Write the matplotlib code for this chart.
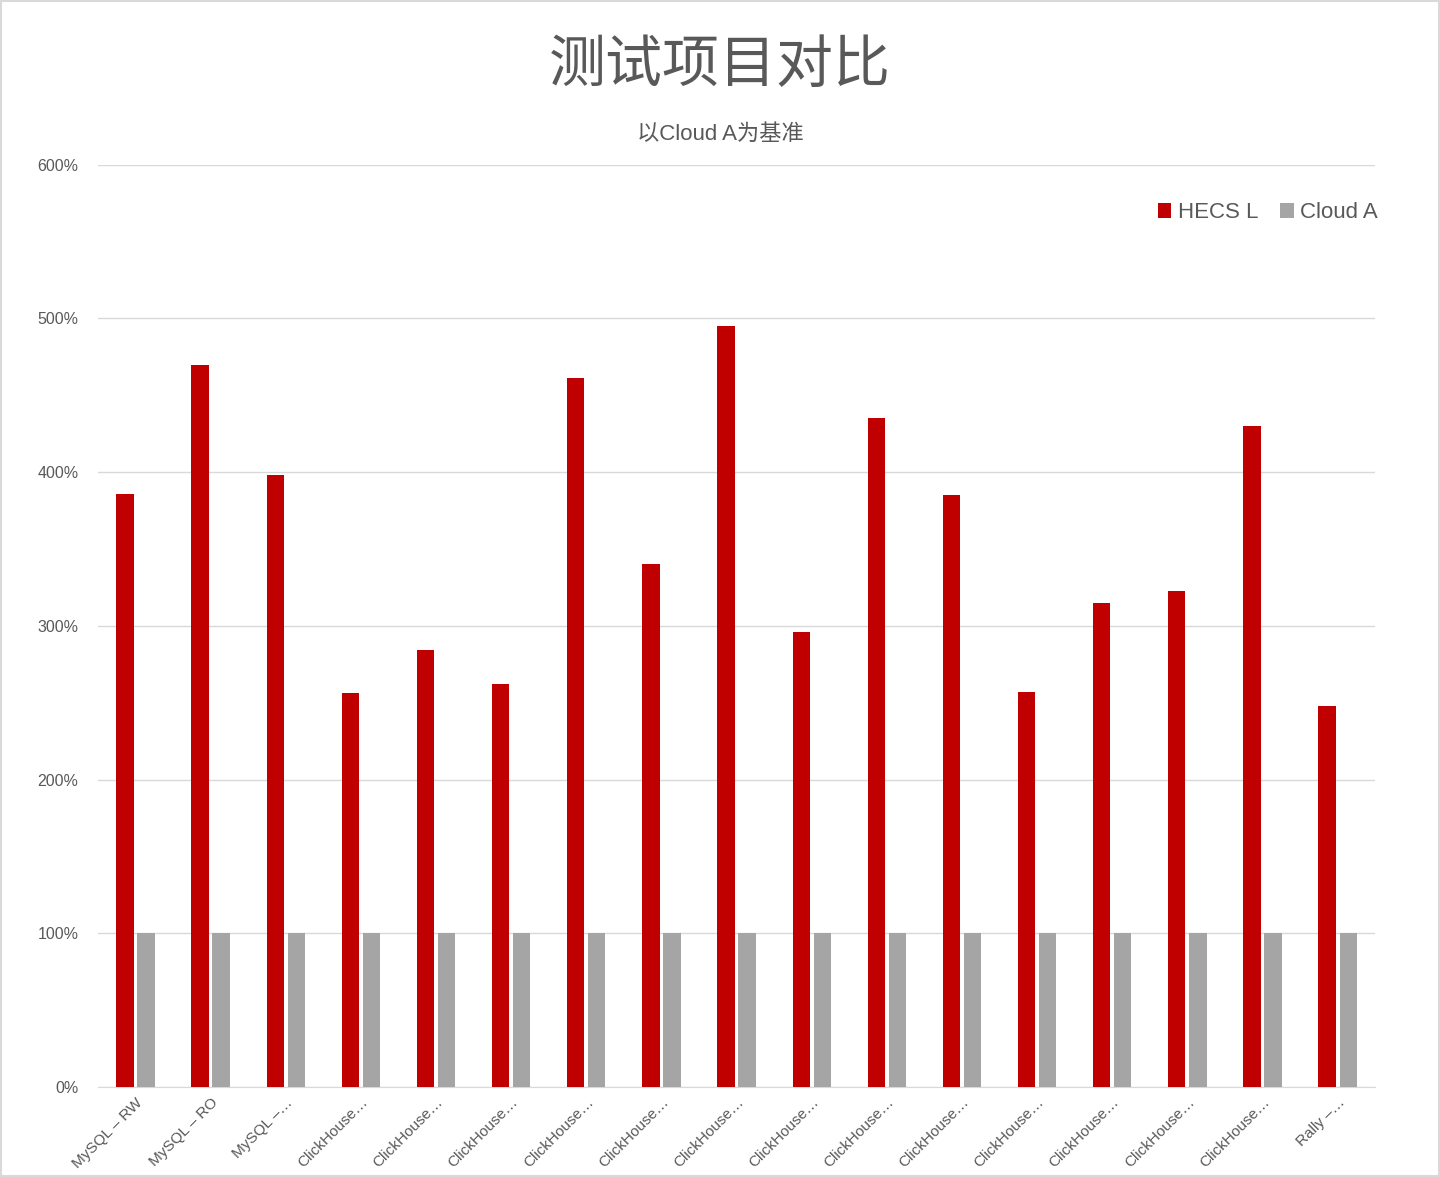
import numpy as np
import matplotlib.pyplot as plt
from matplotlib.patches import Rectangle
from matplotlib.ticker import FuncFormatter, MultipleLocator

plt.rcParams['font.family'] = ['Liberation Sans', 'Noto Sans CJK SC', 'DejaVu Sans']

labels = ['MySQL – RW', 'MySQL – RO', 'MySQL –…'] + ['ClickHouse…'] * 13 + ['Rally –…']
hecs = [386, 470, 398, 256, 284, 262, 461, 340, 495, 296, 435, 385, 257, 315, 323, 430, 248]
cloud_a = [100] * 17

txt = '#595959'
fig = plt.figure(figsize=(14.4, 11.77), dpi=100)
ax = fig.add_axes([0.068, 0.0765, 0.887, 0.7835])

x = np.arange(len(labels))
w = 0.23
ax.bar(x - 0.14, hecs, w, color='#c00000', label='HECS L', zorder=3)
ax.bar(x + 0.14, cloud_a, w, color='#a5a5a5', label='Cloud A', zorder=3)

ax.set_xlim(-0.5, len(labels) - 0.5)
ax.set_ylim(0, 600)
ax.yaxis.set_major_locator(MultipleLocator(100))
ax.yaxis.set_major_formatter(FuncFormatter(lambda v, p: f'{int(v)}%'))
ax.grid(axis='y', color='#d9d9d9', linewidth=1, zorder=0)
for s in ['top', 'right', 'left']:
    ax.spines[s].set_visible(False)
ax.spines['bottom'].set_color('#d9d9d9')
ax.tick_params(axis='y', length=0, labelsize=11.5, labelcolor=txt, pad=14)
ax.tick_params(axis='x', length=0, labelsize=11, labelcolor=txt, pad=6)
ax.set_xticks(x)
ax.set_xticklabels(labels, rotation=45, ha='right', rotation_mode='anchor')

fig.text(0.5, 0.943, '测试项目对比', ha='center', va='center', fontsize=41, color=txt)
fig.text(0.5, 0.886, '以Cloud A为基准', ha='center', va='center', fontsize=16, color=txt)

leg = ax.legend(loc='upper right', bbox_to_anchor=(1.018, 0.981), ncol=2, frameon=False,
                fontsize=16, handlelength=0.6, handleheight=0.6, handletextpad=0.3,
                columnspacing=1.0)
for t in leg.get_texts():
    t.set_color(txt)

fig.patches.append(Rectangle((0.001, 0.001), 0.998, 0.998, transform=fig.transFigure,
                             fill=False, edgecolor='#d9d9d9', linewidth=1.5))

fig.savefig('out.png', dpi=100)
